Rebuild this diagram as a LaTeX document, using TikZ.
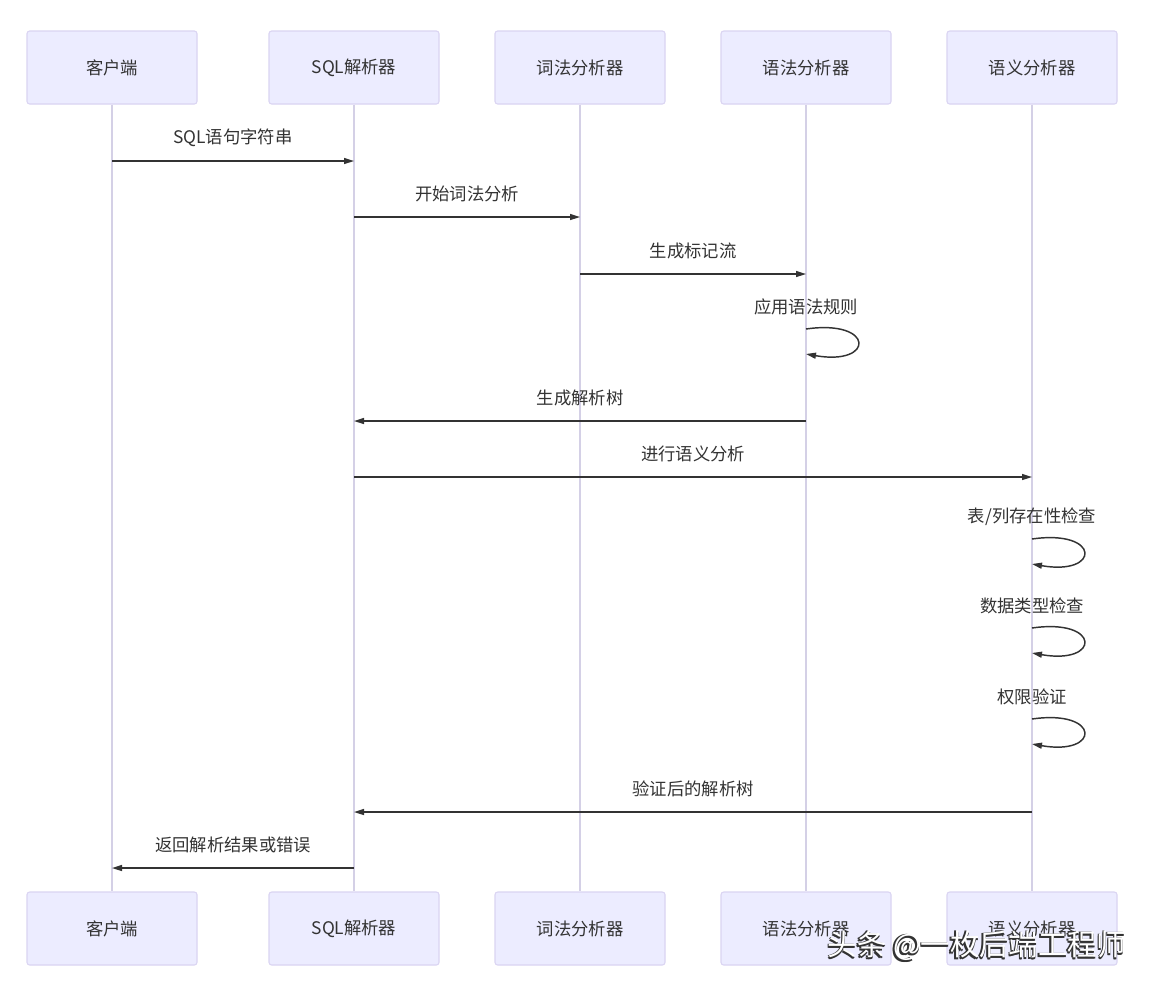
\documentclass[tikz,border=0pt]{standalone}
\usepackage{fontspec}
\setmainfont{Noto Sans CJK SC}
\usepackage{xcolor}
\usetikzlibrary{arrows.meta, calc}
\definecolor{actfill}{HTML}{ECECFF}
\definecolor{actline}{HTML}{DAD4F2}
\definecolor{lifecol}{HTML}{D4D0E6}
\definecolor{msgcol}{HTML}{333333}

\tikzset{
  actor/.style={draw=actline, fill=actfill, line width=0.8pt, rounded corners=2pt,
    minimum width=127.5pt, minimum height=54.75pt, inner sep=0pt,
    font=\fontsize{13}{15}\selectfont, text=msgcol},
  lifeline/.style={draw=lifecol, line width=1.3pt},
  msg/.style={draw=msgcol, line width=1.1pt, -{Triangle[length=7.5pt,width=4.5pt]}},
  msglabel/.style={font=\fontsize{13}{15}\selectfont, text=msgcol, inner sep=0pt},
  wmark/.style={font=\fontsize{22}{24}\selectfont, inner sep=0pt}
}

\begin{document}
\begin{tikzpicture}[x=0.75pt,y=-0.75pt]%
  \def\W{1154}%
  \def\H{990}%
  \def\ytop{67.5}
  \def\ybot{928.5}
  \def\lift{17.5pt}

  %canvas:
  \fill[white] (0,0) rectangle (\W,\H);
  \useasboundingbox (0,0) rectangle (\W,\H);

  %actors and lifelines
  \foreach \name/\x/\txt in {cli/112/客户端, sql/354/SQL解析器, lex/580/词法分析器,
                             syn/806/语法分析器, sem/1032/语义分析器}{
    \node[actor] (\name-top) at (\x,\ytop) {\txt};
    \node[actor] (\name-bot) at (\x,\ybot) {\txt};
    \draw[lifeline] (\name-top) -- (\name-bot);
  }

  %messages
  \foreach \i/\from/\to/\y/\txt in {1/cli/sql/161/SQL语句字符串, 2/sql/lex/217/开始词法分析,
                                    3/lex/syn/274/生成标记流, 5/syn/sql/421/生成解析树,
                                    6/sql/sem/477/进行语义分析, 10/sem/sql/812/验证后的解析树,
                                    11/sql/cli/868/返回解析结果或错误}{
    \coordinate (m\i-a) at (\from-top |- 0,\y);
    \coordinate (m\i-b) at (\to-top |- 0,\y);
    \draw[msg] (m\i-a) -- (m\i-b)
      node[msglabel, midway, yshift=\lift] (lbl\i) {\txt};
  }

  %self calls
  \foreach \i/\who/\y/\txt in {4/syn/329/应用语法规则, 7/sem/539/{表/列存在性检查},
                               8/sem/628/数据类型检查, 9/sem/719/权限验证}{
    \coordinate (m\i-a) at (\who-top |- 0,\y);
    \coordinate (m\i-b) at (\who-top |- 0,\y+25);
    \node[msglabel] (lbl\i) at ($(m\i-a)+(0,-22)$) {\txt};
    \draw[msg] (m\i-a) .. controls +(69,-10) and +(69,12) .. (m\i-b);
  }

  %watermark
  \foreach \dx/\dy in {-1.5/1.5, 0/1.8, -1.8/0}{
    \node[wmark, text=black!80] at (977+\dx,946+\dy) {头条 @一枚后端工程师};
  }
  \node[wmark, text=white] (wm) at (977,946) {头条 @一枚后端工程师};

\end{tikzpicture}
\end{document}
